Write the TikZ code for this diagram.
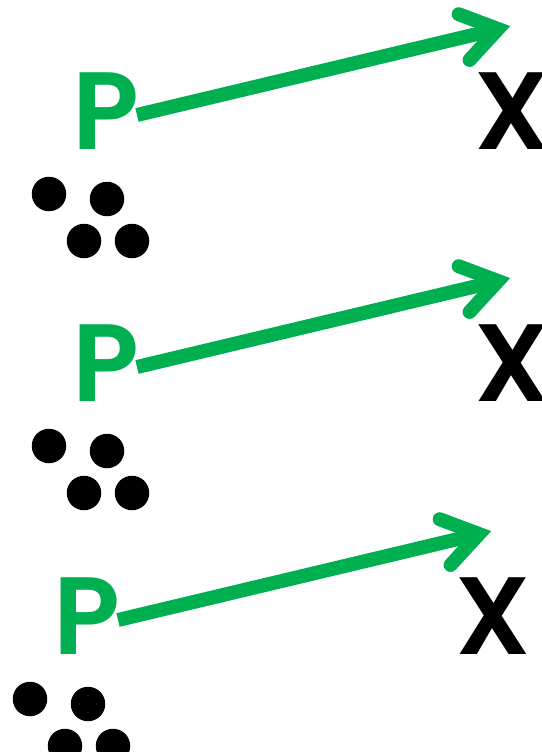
\documentclass[tikz,border=0pt]{standalone}
\usepackage{fontspec}
\setmainfont{Poppins}[BoldFont={Poppins SemiBold}]
\usetikzlibrary{calc}
\definecolor{pgreen}{RGB}{0,176,80}
\tikzset{
  letter/.style={inner sep=0pt, outer sep=0pt, font=\fontsize{110}{110}\selectfont\bfseries, anchor=south west},
  shaft/.style={draw=pgreen, line width=14pt, line cap=butt},
  head/.style={draw=pgreen, line width=14pt, line cap=round, line join=miter, miter limit=10},
  dot/.style={fill=black, circle, inner sep=0pt, minimum size=34.5pt}
}
\begin{document}
\begin{tikzpicture}[x=1pt,y=-1pt]
\useasboundingbox (0,0) rectangle (541,752);
\foreach \i/\dx/\dy in {1/0/0, 2/0/252, 3/-19/505} {
  \begin{scope}[shift={(\dx,\dy)}]
    \node[letter, text=pgreen] (P\i) at (72,149) {P};
    \node[letter, text=black] (X\i) at (474,149) {X};
    \coordinate (s\i) at (137,115);
    \coordinate (v\i) at (498,29);
    \node[dot] (d\i a) at (49,194) {};
    \node[dot] (d\i b) at (107,199) {};
    \node[dot] (d\i c) at (84,241) {};
    \node[dot] (d\i d) at (132,241) {};
  \end{scope}
  \draw[shaft] (s\i) -- (v\i);
  \draw[head] ($(v\i)!42pt!34:(s\i)$) -- (v\i) -- ($(v\i)!42pt!-34:(s\i)$);
}
\end{tikzpicture}
\end{document}
